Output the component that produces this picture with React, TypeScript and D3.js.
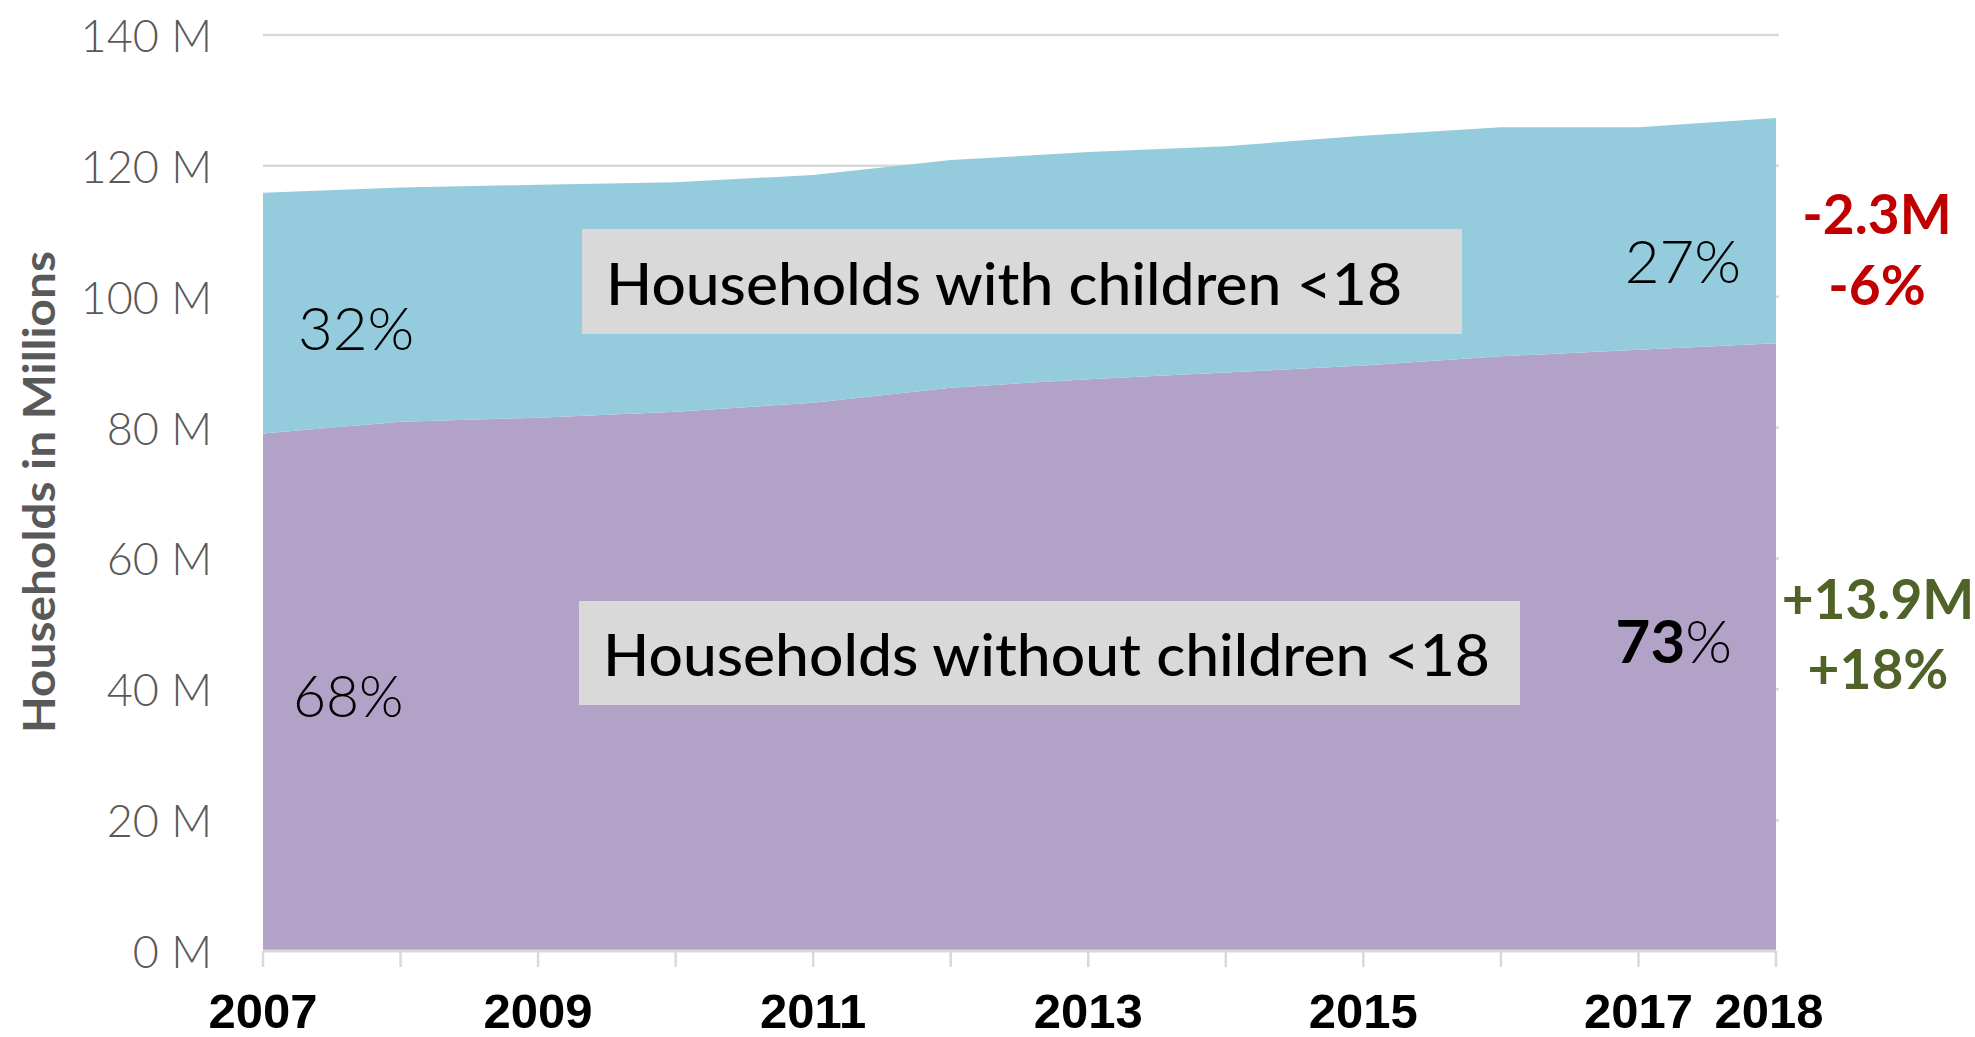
import React from "react";
import * as d3 from "d3";

const years = [2007, 2008, 2009, 2010, 2011, 2012, 2013, 2014, 2015, 2016, 2017, 2018];
const withoutChildren = [79.1, 80.9, 81.5, 82.4, 83.8, 86.1, 87.4, 88.4, 89.5, 90.9, 91.9, 92.9];
const withChildren = [36.8, 35.8, 35.6, 35.1, 34.8, 34.8, 34.7, 34.6, 35.1, 35.0, 34.0, 34.4];
const yTicks = [0, 20, 40, 60, 80, 100, 120, 140];
const xTickLabels = [2007, 2009, 2011, 2013, 2015, 2017, 2018];

const W = 1975;
const H = 1037;
const left = 263;
const right = 1776;
const top = 35;
const bottom = 951;

const FONT = "Lato, 'Noto Sans', sans-serif";

export default function App() {
  const x = d3.scaleLinear().domain([2007, 2018]).range([left, right]);
  const y = d3.scaleLinear().domain([0, 140]).range([bottom, top]);

  const rows = years.map((yr, i) => ({ year: yr, without: withoutChildren[i], with: withChildren[i] }));
  const stack = d3.stack<any>().keys(["without", "with"])(rows);
  const area = d3
    .area<any>()
    .x((d) => x(d.data.year))
    .y0((d) => y(d[0]))
    .y1((d) => y(d[1]));
  const colors = ["#B2A2C8", "#94CCDD"];

  return (
    <svg width={W} height={H} style={{ position: "absolute", left: 0, top: 0, background: "#fff" }}>
      {yTicks.map((t) => (
        <g key={t}>
          {t > 0 && (
            <line x1={left} x2={right + 3} y1={y(t)} y2={y(t)} stroke="#D9D9D9" strokeWidth={2.5} />
          )}
          <text
            x={212}
            y={y(t)}
            textAnchor="end"
            dominantBaseline="central"
            fontFamily={FONT}
            fontWeight={300}
            fontSize={45}
            fill="#595959"
          >
            {t} M
          </text>
        </g>
      ))}
      {stack.map((s, i) => (
        <path key={s.key} d={area(s) || ""} fill={colors[i]} />
      ))}
      <line x1={left} x2={right} y1={bottom} y2={bottom} stroke="#D9D9D9" strokeWidth={3} />
      {years.map((yr) => (
        <line key={yr} x1={x(yr)} x2={x(yr)} y1={bottom} y2={bottom + 16} stroke="#D9D9D9" strokeWidth={2.5} />
      ))}
      {xTickLabels.map((yr) => (
        <text
          key={yr}
          x={x(yr) - (yr === 2018 ? 7 : 0)}
          y={1011}
          textAnchor="middle"
          dominantBaseline="central"
          fontFamily="'Liberation Sans', Arial, sans-serif"
          fontWeight={700}
          fontSize={49}
          fill="#000"
        >
          {yr}
        </text>
      ))}
      <text
        transform={`translate(38,492) rotate(-90)`}
        textAnchor="middle"
        dominantBaseline="central"
        fontFamily={FONT}
        fontWeight={700}
        fontSize={44}
        textLength={482}
        lengthAdjust="spacingAndGlyphs"
        fill="#595959"
      >
        Households in Millions
      </text>

      <rect x={582} y={229} width={880} height={105} fill="#D9D9D9" />
      <text
        x={606}
        y={305}
        fontFamily={FONT}
        fontWeight={500}
        fontSize={57}
        textLength={796}
        lengthAdjust="spacingAndGlyphs"
        fill="#000"
      >
        Households with children &lt;18
      </text>
      <rect x={579} y={601} width={941} height={104} fill="#D9D9D9" />
      <text
        x={603}
        y={676}
        fontFamily={FONT}
        fontWeight={500}
        fontSize={57}
        textLength={887}
        lengthAdjust="spacingAndGlyphs"
        fill="#000"
      >
        Households without children &lt;18
      </text>

      <text x={298} y={327} dominantBaseline="central" fontFamily={FONT} fontWeight={300} fontSize={60} fill="#000">
        32%
      </text>
      <text x={293} y={695} dominantBaseline="central" fontFamily={FONT} fontWeight={300} fontSize={57} fill="#000">
        68%
      </text>
      <text x={1741} y={260} textAnchor="end" dominantBaseline="central" fontFamily={FONT} fontWeight={300} fontSize={60} fill="#000">
        27%
      </text>
      <text x={1732} y={640} textAnchor="end" dominantBaseline="central" fontFamily={FONT} fontSize={60} fill="#000">
        <tspan fontWeight={700}>73</tspan>
        <tspan fontWeight={300}>%</tspan>
      </text>

      <text x={1877} y={213} textAnchor="middle" dominantBaseline="central" fontFamily={FONT} fontWeight={700} fontSize={55} fill="#C00000">
        -2.3M
      </text>
      <text x={1877} y={284} textAnchor="middle" dominantBaseline="central" fontFamily={FONT} fontWeight={700} fontSize={55} fill="#C00000">
        -6%
      </text>
      <text x={1878} y={598} textAnchor="middle" dominantBaseline="central" fontFamily={FONT} fontWeight={700} fontSize={55} fill="#4F6228">
        +13.9M
      </text>
      <text x={1878} y={668} textAnchor="middle" dominantBaseline="central" fontFamily={FONT} fontWeight={700} fontSize={55} fill="#4F6228">
        +18%
      </text>
    </svg>
  );
}
